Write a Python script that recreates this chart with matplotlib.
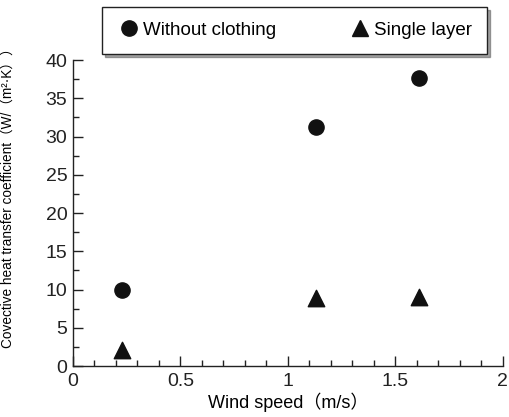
import matplotlib
matplotlib.use("Agg")
import matplotlib.pyplot as plt
from matplotlib.ticker import MultipleLocator
from matplotlib.lines import Line2D

plt.rcParams['font.family'] = ['Liberation Sans', 'Noto Sans CJK JP', 'DejaVu Sans']

wind_speed = [0.23, 1.13, 1.61]
without_clothing = [10.0, 31.2, 37.6]
single_layer = [2.1, 8.9, 9.0]
series_labels = ["Without clothing", "Single layer"]

fig = plt.figure(figsize=(5.10, 4.17), dpi=100)
ax = fig.add_axes([0.143, 0.122, 0.843, 0.734])

ax.scatter(wind_speed, without_clothing, marker='o', s=120, color='#111111', zorder=3)
ax.scatter(wind_speed, single_layer, marker='^', s=140, color='#111111', zorder=3)

ax.set_xlim(0, 2)
ax.set_ylim(0, 40)
ax.xaxis.set_major_locator(MultipleLocator(0.5))
ax.xaxis.set_minor_locator(MultipleLocator(0.1))
ax.yaxis.set_major_locator(MultipleLocator(5))
ax.yaxis.set_minor_locator(MultipleLocator(2.5))
ax.set_xticks([0, 0.5, 1, 1.5, 2])
ax.set_xticklabels(["0", "0.5", "1", "1.5", "2"])
for s in ['top', 'right']:
    ax.spines[s].set_visible(False)
for s in ['left', 'bottom']:
    ax.spines[s].set_linewidth(1.0)
    ax.spines[s].set_color('#222222')
ax.tick_params(which='major', direction='in', length=7, width=1.0, labelsize=14, colors='#222222', pad=5)
ax.tick_params(which='minor', direction='in', length=4, width=1.0, colors='#222222')
ax.tick_params(axis='y', pad=4)

ax.set_xlabel("Wind speed（m/s）", fontsize=13, labelpad=2)
ax.set_ylabel("Covective heat transfer coefficient（W/（m²·K））", fontsize=9.8)
ax.yaxis.set_label_coords(-0.135, 0.56)

handles = [Line2D([], [], marker='o', linestyle='none', color='#111111', markersize=11),
           Line2D([], [], marker='^', linestyle='none', color='#111111', markersize=12)]
leg = fig.legend(handles, series_labels, ncol=2, loc='center',
                 bbox_to_anchor=(0.578, 0.927), fontsize=13.5, frameon=True, fancybox=False,
                 shadow=True, handletextpad=0.15, columnspacing=3.9, borderpad=0.8,
                 handlelength=1.2)
leg.get_frame().set_edgecolor('#222222')
leg.get_frame().set_linewidth(1.0)

fig.savefig("out.png", dpi=100)
